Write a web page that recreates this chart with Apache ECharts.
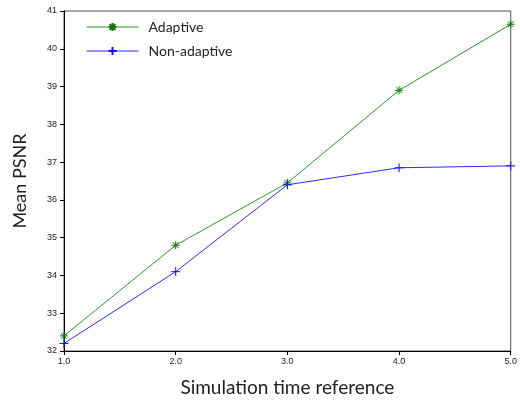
<!DOCTYPE html>
<html>
<head>
<meta charset="utf-8">
<script src="https://cdn.jsdelivr.net/npm/echarts@6/dist/echarts.min.js"></script>
<style>html,body{margin:0;padding:0;background:#fff;}#c{width:520px;height:402px;}</style>
</head>
<body>
<div id="c"></div>
<script>
var xValues = [1, 2, 3, 4, 5];
var adaptive = [32.4, 34.8, 36.45, 38.9, 40.65];
var nonAdaptive = [32.2, 34.1, 36.4, 36.85, 36.9];
var seriesNames = ['Adaptive', 'Non-adaptive'];

var star = 'path://M0,-5L0,5M-5,0L5,0M-3.6,-3.6L3.6,3.6M-3.6,3.6L3.6,-3.6';
var plus = 'path://M0,-5L0,5M-5,0L5,0';

function pairs(vals) { return xValues.map(function (x, i) { return [x, vals[i]]; }); }

var chart = echarts.init(document.getElementById('c'));
chart.setOption({
  animation: false,
  grid: { left: 64, right: 7, top: 11, bottom: 50, show: true, borderColor: '#555', borderWidth: 1 },
  legend: {
    orient: 'vertical', left: 81, top: 15, itemWidth: 52, itemHeight: 10, itemGap: 10,
    lineStyle: { width: 1 },
    textStyle: { fontFamily: 'Lato', fontSize: 14, color: '#222', padding: [0, 0, 0, 5] },
    data: seriesNames
  },
  xAxis: {
    type: 'value', min: 1, max: 5, interval: 1,
    name: 'Simulation time reference', nameLocation: 'middle', nameGap: 27,
    nameTextStyle: { fontFamily: 'Lato', fontSize: 19, color: '#222' },
    axisLine: { lineStyle: { color: '#000' } },
    axisTick: { length: 4, lineStyle: { color: '#000' } },
    axisLabel: { fontFamily: 'Liberation Sans', fontSize: 9, color: '#222', margin: 6,
      formatter: function (v) { return v.toFixed(1); } },
    splitLine: { show: false }
  },
  yAxis: {
    type: 'value', min: 32, max: 41, interval: 1,
    name: 'Mean PSNR', nameLocation: 'middle', nameGap: 35,
    nameTextStyle: { fontFamily: 'Lato', fontSize: 18, color: '#222' },
    axisLine: { show: true, lineStyle: { color: '#000' } },
    axisTick: { show: true, length: 4, lineStyle: { color: '#000' } },
    axisLabel: { fontFamily: 'Liberation Sans', fontSize: 9, color: '#222', margin: 7 },
    splitLine: { show: false }
  },
  series: [
    { name: seriesNames[0], type: 'line', data: pairs(adaptive), symbol: star, symbolSize: 8,
      lineStyle: { color: '#2a9a2a', width: 1 },
      itemStyle: { color: '#0a7a0a', borderColor: '#0a7a0a', borderWidth: 1 } },
    { name: seriesNames[1], type: 'line', data: pairs(nonAdaptive), symbol: plus, symbolSize: 9,
      lineStyle: { color: '#2b2bff', width: 1 },
      itemStyle: { color: '#1010ee', borderColor: '#1010ee', borderWidth: 1 } }
  ]
});
</script>
</body>
</html>
